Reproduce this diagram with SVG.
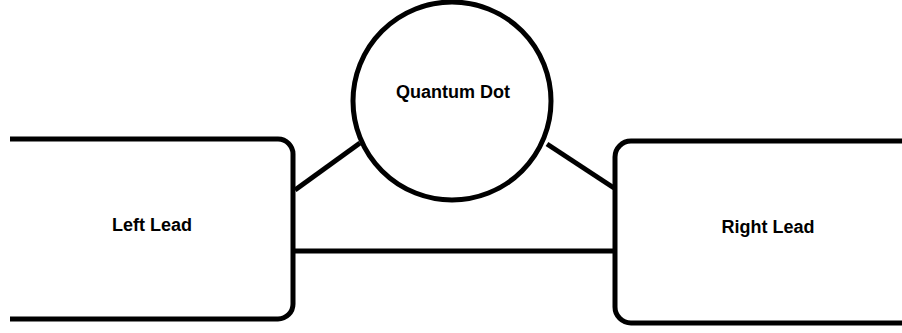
<svg xmlns="http://www.w3.org/2000/svg" width="902" height="333" viewBox="0 0 902 333">
<style>
.s{fill:none;stroke:#000;stroke-width:5;stroke-linecap:butt;stroke-linejoin:round}
.t{font-family:"Liberation Sans",Arial,sans-serif;font-weight:bold;font-size:18px;fill:#000;text-anchor:middle}
</style>
<rect width="902" height="333" fill="#fff"/>
<g id="connectors">
<line class="s" x1="295" y1="190" x2="360" y2="143"/>
<line class="s" x1="547" y1="144" x2="614" y2="188"/>
<line class="s" x1="295" y1="251" x2="614" y2="251"/>
</g>
<g id="left-lead">
<path class="s" d="M10,139 H278 A15,15 0 0 1 293,154 V304 A15,15 0 0 1 278,319 H10"/>
<text class="t" x="152" y="231">Left Lead</text>
</g>
<g id="right-lead">
<path class="s" d="M902,141 H631 A16,16 0 0 0 615,157 V307 A16,16 0 0 0 631,323 H902"/>
<text class="t" x="768" y="233">Right Lead</text>
</g>
<g id="quantum-dot">
<circle class="s" cx="452" cy="101" r="99" fill="#fff"/>
<text class="t" x="453" y="98">Quantum Dot</text>
</g>
</svg>
